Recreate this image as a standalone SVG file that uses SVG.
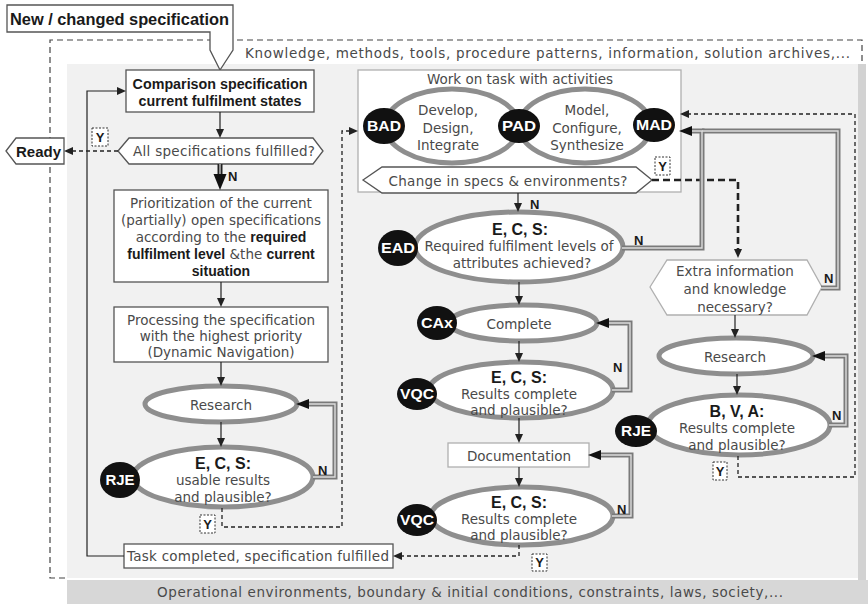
<svg xmlns="http://www.w3.org/2000/svg" width="868" height="604" viewBox="0 0 868 604">
<defs>
<style>
.t{font-family:"DejaVu Sans",sans-serif;font-size:13.5px;fill:#4a4a4a}
.b{font-family:"Liberation Sans",Arial,sans-serif;font-weight:bold;fill:#1a1a1a}
.w{font-family:"Liberation Sans",Arial,sans-serif;font-weight:bold;font-size:15px;fill:#fff}
.box{fill:#fff;stroke:#555;stroke-width:1.3}
.lbox{fill:#fff;stroke:#b0b0b0;stroke-width:1.3}
.ell{fill:#fff;stroke:#8e8e8e;stroke-width:5}
.blk{fill:#111}
.ln{fill:none;stroke:#222;stroke-width:1.2}
.ds{fill:none;stroke:#222;stroke-width:1.3;stroke-dasharray:4 3}
.dsk{fill:none;stroke:#222;stroke-width:2.6;stroke-dasharray:7 4}
.g1{fill:none;stroke:#7a7a7a;stroke-width:5}
.g2{fill:none;stroke:#dcdcdc;stroke-width:1.4}
.k1{fill:none;stroke:#222;stroke-width:5}
.k2{fill:none;stroke:#d0d0d0;stroke-width:1.3}
.yb{fill:#fff;stroke:#333;stroke-width:1;stroke-dasharray:2 1.5}
</style>
<marker id="a" markerUnits="userSpaceOnUse" markerWidth="9" markerHeight="8" refX="0" refY="4" orient="auto" overflow="visible"><path d="M0,0 L9,4 L0,8 z" fill="#222"/></marker>
<marker id="bg" markerUnits="userSpaceOnUse" markerWidth="13" markerHeight="10" refX="0" refY="5" orient="auto" overflow="visible"><path d="M0,0 L13,5 L0,10 z" fill="#111"/></marker>
<marker id="c" markerUnits="userSpaceOnUse" markerWidth="16" markerHeight="13" refX="0" refY="6.5" orient="auto" overflow="visible"><path d="M0,0 L16,6.5 L0,13 z" fill="#111"/></marker>
</defs>

<g id="background">
<path d="M65,578 H50 V40 H862 V64" fill="none" stroke="#444" stroke-width="1.2" stroke-dasharray="6 4"/>
<rect x="67" y="64" width="793" height="514" fill="#f1f1f1"/>
<rect x="858" y="64" width="8" height="516" fill="#d2d2d2"/>
<rect x="67" y="580" width="801" height="24" fill="#d7d7d7"/>
<text class="t" x="245" y="58" font-size="15" textLength="605">Knowledge, methods, tools, procedure patterns, information, solution archives,...</text>
<text class="t" x="157" y="597" font-size="15" textLength="626">Operational environments, boundary &amp; initial conditions, constraints, laws, society,...</text>
</g>

<g id="new-spec">
<path class="box" d="M7,5 H233 V50 L220,70 L210,50 V32 H7 Z"/>
<text class="b" x="10" y="25" font-size="16.4" textLength="219">New / changed specification</text>
</g>

<g id="ready">
<path class="box" d="M6,151 L16,138 H64 V164 H16 Z"/>
<text class="b" x="16" y="157" font-size="15">Ready</text>
</g>

<g id="comparison">
<rect class="box" x="126" y="70" width="188" height="42"/>
<text class="b" x="220" y="89" font-size="14.3" text-anchor="middle">Comparison specification</text>
<text class="b" x="220" y="106" font-size="14.3" text-anchor="middle">current fulfilment states</text>
</g>

<g id="all-fulfilled">
<path class="box" d="M118,151 L129,138 H313 L323,151 L313,164 H129 Z"/>
<text class="t" x="224" y="156" text-anchor="middle" textLength="182">All specifications fulfilled?</text>
</g>

<g id="prioritization">
<rect class="box" x="114" y="190" width="214" height="92"/>
<text class="t" x="221" y="208" text-anchor="middle">Prioritization of the current</text>
<text class="t" x="221" y="225" text-anchor="middle">(partially) open specifications</text>
<text class="t" x="221" y="242" text-anchor="middle">according to the <tspan class="b" font-size="14">required</tspan></text>
<text class="t" x="221" y="259" text-anchor="middle"><tspan class="b" font-size="14">fulfilment level</tspan> &amp;the <tspan class="b" font-size="14">current</tspan></text>
<text class="b" x="221" y="276" font-size="14" text-anchor="middle">situation</text>
</g>

<g id="processing">
<rect class="box" x="114" y="307" width="214" height="55"/>
<text class="t" x="221" y="325" text-anchor="middle">Processing the specification</text>
<text class="t" x="221" y="341" text-anchor="middle">with the highest priority</text>
<text class="t" x="221" y="357" text-anchor="middle">(Dynamic Navigation)</text>
</g>

<g id="research-1">
<ellipse class="ell" cx="221" cy="404" rx="76" ry="18"/>
<text class="t" x="221" y="410" text-anchor="middle" font-size="14">Research</text>
</g>

<g id="check-usable">
<ellipse class="ell" cx="223" cy="477" rx="90" ry="30"/>
<text class="b" x="223" y="469" font-size="16" text-anchor="middle">E, C, S:</text>
<text class="t" x="223" y="485" text-anchor="middle" font-size="14">usable results</text>
<text class="t" x="223" y="502" text-anchor="middle" font-size="14">and plausible?</text>
<ellipse class="blk" cx="120" cy="480" rx="20" ry="18"/>
<text class="w" x="120" y="485" text-anchor="middle">RJE</text>
</g>

<g id="task-completed">
<rect class="box" x="124" y="544" width="269" height="24"/>
<text class="t" x="258" y="561" text-anchor="middle" font-size="14" textLength="262">Task completed, specification fulfilled</text>
</g>

<g id="work-on-task">
<rect class="lbox" x="358" y="70" width="323" height="122"/>
<text class="t" x="520" y="84" text-anchor="middle" font-size="14">Work on task with activities</text>
<ellipse class="ell" cx="452" cy="126" rx="67" ry="37" fill="none"/>
<ellipse class="ell" cx="585" cy="126" rx="66" ry="37" fill="none"/>
<text class="t" x="448" y="115" text-anchor="middle" font-size="14">Develop,</text>
<text class="t" x="448" y="133" text-anchor="middle" font-size="14">Design,</text>
<text class="t" x="448" y="150" text-anchor="middle" font-size="14">Integrate</text>
<text class="t" x="587" y="115" text-anchor="middle" font-size="14">Model,</text>
<text class="t" x="587" y="133" text-anchor="middle" font-size="14">Configure,</text>
<text class="t" x="587" y="150" text-anchor="middle" font-size="14">Synthesize</text>
<ellipse class="blk" cx="384" cy="126" rx="21" ry="18"/>
<text class="w" x="384" y="131" text-anchor="middle" textLength="34" lengthAdjust="spacingAndGlyphs">BAD</text>
<ellipse class="blk" cx="519" cy="126" rx="21" ry="17"/>
<text class="w" x="519" y="131" text-anchor="middle" textLength="34" lengthAdjust="spacingAndGlyphs">PAD</text>
<ellipse class="blk" cx="654" cy="125" rx="21" ry="17"/>
<text class="w" x="654" y="130" text-anchor="middle" textLength="36" lengthAdjust="spacingAndGlyphs">MAD</text>
</g>

<g id="change-specs">
<path class="box" d="M363,180 L382,167 H636 L652,180 L636,193 H382 Z" stroke="#666"/>
<text class="t" x="508" y="186" text-anchor="middle" font-size="14.5" textLength="239">Change in specs &amp; environments?</text>
</g>

<g id="check-levels">
<ellipse class="ell" cx="519" cy="247" rx="104" ry="35"/>
<text class="b" x="520" y="235" font-size="16" text-anchor="middle">E, C, S:</text>
<text class="t" x="519" y="251" text-anchor="middle" font-size="14" textLength="189">Required fulfilment levels of</text>
<text class="t" x="522" y="268" text-anchor="middle" font-size="14">attributes achieved?</text>
<ellipse class="blk" cx="398" cy="248" rx="20" ry="18"/>
<text class="w" x="398" y="253" text-anchor="middle" textLength="34" lengthAdjust="spacingAndGlyphs">EAD</text>
</g>

<g id="complete">
<ellipse class="ell" cx="523" cy="323" rx="74" ry="18"/>
<text class="t" x="519" y="329" text-anchor="middle" font-size="14.5">Complete</text>
<ellipse class="blk" cx="437" cy="323" rx="20" ry="17"/>
<text class="w" x="437" y="328" text-anchor="middle" textLength="32" lengthAdjust="spacingAndGlyphs">CAx</text>
</g>

<g id="check-results-1">
<ellipse class="ell" cx="521" cy="390" rx="92" ry="28"/>
<text class="b" x="519" y="383" font-size="16" text-anchor="middle">E, C, S:</text>
<text class="t" x="519" y="399" text-anchor="middle" font-size="14">Results complete</text>
<text class="t" x="519" y="415" text-anchor="middle" font-size="14">and plausible?</text>
<ellipse class="blk" cx="417" cy="394" rx="20" ry="16"/>
<text class="w" x="417" y="399" text-anchor="middle" textLength="34" lengthAdjust="spacingAndGlyphs">VQC</text>
</g>

<g id="documentation">
<rect class="lbox" x="448" y="443" width="141" height="24"/>
<text class="t" x="519" y="461" text-anchor="middle" font-size="14.5">Documentation</text>
</g>

<g id="check-results-2">
<ellipse class="ell" cx="522" cy="516" rx="91" ry="29"/>
<text class="b" x="519" y="508" font-size="16" text-anchor="middle">E, C, S:</text>
<text class="t" x="519" y="524" text-anchor="middle" font-size="14">Results complete</text>
<text class="t" x="519" y="540" text-anchor="middle" font-size="14">and plausible?</text>
<ellipse class="blk" cx="417" cy="520" rx="20" ry="16"/>
<text class="w" x="417" y="525" text-anchor="middle" textLength="34" lengthAdjust="spacingAndGlyphs">VQC</text>
</g>

<g id="extra-info">
<path class="lbox" d="M650,287 L667,260 H807 L822,287 L807,315 H667 Z"/>
<text class="t" x="735" y="276" text-anchor="middle" font-size="14.5">Extra information</text>
<text class="t" x="735" y="294" text-anchor="middle" font-size="14.5">and knowledge</text>
<text class="t" x="735" y="312" text-anchor="middle" font-size="14.5">necessary?</text>
</g>

<g id="research-2">
<ellipse class="ell" cx="736" cy="356" rx="77" ry="18"/>
<text class="t" x="735" y="362" text-anchor="middle" font-size="14">Research</text>
</g>

<g id="check-bva">
<ellipse class="ell" cx="739" cy="425" rx="91" ry="30"/>
<text class="b" x="737" y="417" font-size="16" text-anchor="middle">B, V, A:</text>
<text class="t" x="737" y="433" text-anchor="middle" font-size="14">Results complete</text>
<text class="t" x="737" y="450" text-anchor="middle" font-size="14">and plausible?</text>
<ellipse class="blk" cx="636" cy="431" rx="21" ry="16"/>
<text class="w" x="636" y="436" text-anchor="middle" textLength="30" lengthAdjust="spacingAndGlyphs">RJE</text>
</g>

<g id="connectors">
<path class="ln" d="M220,112 V129" marker-end="url(#a)"/>
<path class="ln" d="M221,282 V298" marker-end="url(#a)"/>
<path class="ln" d="M221,362 V377" marker-end="url(#a)"/>
<path class="ln" d="M221,422 V438" marker-end="url(#a)"/>
<path class="ln" d="M124,556 H87 V91 H117" marker-end="url(#a)"/>
<path class="ln" d="M518,193 V203" marker-end="url(#a)"/>
<path class="ln" d="M519,282 V296" marker-end="url(#a)"/>
<path class="ln" d="M519,341 V353" marker-end="url(#a)"/>
<path class="ln" d="M519,418 V434" marker-end="url(#a)"/>
<path class="ln" d="M519,467 V478" marker-end="url(#a)"/>
<path class="ln" d="M735,315 V329" marker-end="url(#a)"/>
<path class="ln" d="M737,374 V386" marker-end="url(#a)"/>

<path class="ds" d="M118,151 H73" marker-end="url(#a)"/>
<path class="ds" d="M222,508 V527 H342 V131 H349" marker-end="url(#a)"/>
<path class="ds" d="M519,545 V556 H402" marker-end="url(#a)"/>
<path class="ds" d="M738,456 V477 H855 V114 H689" marker-end="url(#a)"/>
<path class="dsk" d="M652,180 H738 V249" marker-end="url(#a)"/>

<path class="k1" d="M220,164 V174" marker-end="url(#c)"/>
<path class="k2" d="M220,164 V174"/>

<path class="g1" d="M313,477 H335 V404 H309" marker-end="url(#bg)"/>
<path class="g2" d="M313,477 H335 V404 H309"/>
<path class="g1" d="M622,248 H702 V131 H692" marker-end="url(#bg)"/>
<path class="g1" d="M821,288 H838 V131 H702"/>
<path class="g2" d="M622,248 H702 V131 H692"/>
<path class="g2" d="M821,288 H838 V131 H702"/>
<path class="g1" d="M612,390 H630 V323 H609" marker-end="url(#bg)"/>
<path class="g2" d="M612,390 H630 V323 H609"/>
<path class="g1" d="M612,516 H631 V455 H601" marker-end="url(#bg)"/>
<path class="g2" d="M612,516 H631 V455 H601"/>
<path class="g1" d="M829,425 H846 V356 H825" marker-end="url(#bg)"/>
<path class="g2" d="M829,425 H846 V356 H825"/>

<text class="b" x="228" y="181" font-size="13">N</text>
<text class="b" x="530" y="209" font-size="13">N</text>
<text class="b" x="318" y="475" font-size="13">N</text>
<text class="b" x="634" y="245" font-size="13">N</text>
<text class="b" x="824" y="283" font-size="13">N</text>
<text class="b" x="613" y="372" font-size="13">N</text>
<text class="b" x="617" y="514" font-size="13">N</text>
<text class="b" x="832" y="420" font-size="13">N</text>

<rect class="yb" x="92" y="128" width="16" height="18"/>
<text class="b" x="100" y="142" font-size="13" text-anchor="middle">Y</text>
<rect class="yb" x="655" y="157" width="15" height="18"/>
<text class="b" x="662.5" y="171" font-size="13" text-anchor="middle">Y</text>
<rect class="yb" x="200" y="515" width="15" height="18"/>
<text class="b" x="207.5" y="529" font-size="13" text-anchor="middle">Y</text>
<rect class="yb" x="532" y="554" width="15" height="17"/>
<text class="b" x="539.5" y="567" font-size="13" text-anchor="middle">Y</text>
<rect class="yb" x="713" y="462" width="14" height="18"/>
<text class="b" x="720" y="476" font-size="13" text-anchor="middle">Y</text>
</g>
</svg>
